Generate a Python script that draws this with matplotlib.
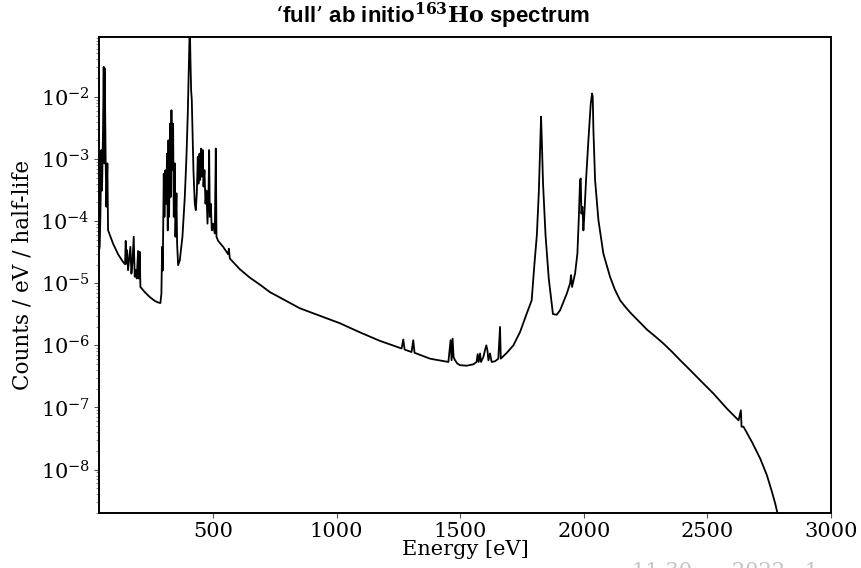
import matplotlib
matplotlib.use("Agg")
import matplotlib.pyplot as plt
import numpy as np

# Energy [eV] and spectrum value (counts / eV / half-life)
energy = [
    40, 41.3, 44, 48, 50.8, 54.8, 57.5, 60.2, 61.6, 65.6, 68.3, 72.4, 75.1, 77.8,
    95.3, 115.6, 135.8, 143.9, 146.6, 149.3, 152, 156, 160.1, 165.5, 169.6, 173.6,
    179, 183, 187.1, 191.2, 196.6, 199.3, 203.3, 206,
    223.6, 243.8, 264, 277.6, 287,
    291, 293.8, 296.4, 300.5, 303.2, 307.2, 310, 314, 316.7, 319.4, 322.1, 326.2,
    328.9, 331.6, 334.3, 338.3, 341, 345, 347.8, 351.8, 354.5, 358.6,
    365.3, 376.1, 385.6, 392.3, 397.7, 401.8, 404.5, 405.8, 408.5, 411.2, 413.9,
    416.6, 420.6, 426, 430.1, 434.2, 438.2, 440.9, 445, 447.7, 451.7, 454.4, 458.4,
    461.2, 465.2, 469.3, 473.3, 477.4, 481.4, 484.1, 486.8, 490.8, 494.9, 500.3,
    507, 511.1, 513.8, 520.6,
    540.8, 561, 563.8, 567.8, 608.3, 648.8, 689.3, 729.8,
    851, 1013, 1094, 1175,
    1262.8, 1269.5, 1275, 1303, 1310, 1315, 1377.5, 1452, 1461, 1465, 1469, 1473,
    1479, 1488, 1499, 1526, 1553, 1566, 1570.5, 1574.5, 1580, 1584, 1593.5, 1600,
    1605.5, 1610, 1614, 1620.5, 1627, 1641, 1654, 1661, 1664, 1688, 1715, 1742,
    1769, 1789,
    1800, 1810, 1818, 1823, 1827, 1830, 1835, 1845, 1858, 1875, 1890,
    1904, 1931, 1944.3, 1948.4, 1952.4, 1964.5, 1974, 1979.4, 1984.8, 1987.5,
    1990.2, 1994.2, 1998.3, 2002.3, 2009, 2018.5, 2028, 2033.4, 2036, 2038.8,
    2045.5, 2059, 2079, 2106, 2125, 2147, 2167, 2187, 2220, 2255, 2290, 2322,
    2355, 2390,
    2430, 2470.7, 2524.7, 2578.7, 2626, 2635.4, 2638, 2646, 2680, 2713.7,
    2740.7, 2761, 2774.4, 2784, 2800,
]
counts = [
    3.6e-5, 3.85e-5, 1.17e-4, 1.39e-3, 3.1e-4, 2.9e-3, 3.05e-2, 8.5e-4, 2.86e-2,
    8.5e-4, 1.7e-4, 8.5e-4, 7.1e-5, 6.7e-5,
    4.35e-5, 2.93e-5, 2.2e-5, 2.02e-5, 4.8e-5, 2.07e-5, 3.4e-5, 1.62e-5, 2.34e-5,
    3.85e-5, 1.43e-5, 2.07e-5, 5.6e-5, 1.27e-5, 1.62e-5, 1.19e-5, 3.3e-5, 1.19e-5,
    3.2e-5, 8.7e-6,
    7.2e-6, 6.0e-6, 5.2e-6, 4.9e-6, 4.8e-6,
    6.8e-6, 3.85e-5, 1.6e-5, 5.8e-4, 1.17e-4, 6.6e-4, 1.9e-4, 1.22e-3, 7.1e-5,
    2.0e-3, 1.17e-4, 3.7e-3, 2.45e-4, 6.1e-3, 6.6e-4, 3.7e-3, 1.17e-4, 8.5e-4,
    5.6e-5, 2.8e-4, 4.35e-5, 1.95e-5,
    2.34e-5, 5.6e-5, 2.45e-4, 1.08e-3, 5.4e-3, 2.7e-2, 8.2e-2, 1.5e-1, 3.9e-2,
    1.28e-2, 8.9e-3, 2.9e-3, 6.6e-4, 1.9e-4, 1.5e-4, 2.8e-4, 1.08e-3, 4.0e-4,
    1.22e-3, 4.6e-4, 1.47e-3, 5.2e-4, 1.39e-3, 3.6e-4, 6.6e-4, 1.9e-4, 3.1e-4,
    9.1e-5, 2.45e-4, 1.39e-3, 1.17e-4, 1.9e-4, 7.1e-5, 9.1e-5, 6.3e-5, 1.47e-3,
    5.6e-5, 4.8e-5,
    3.85e-5, 2.93e-5, 3.6e-5, 2.5e-5, 1.68e-5, 1.23e-5, 9.5e-6, 7.2e-6,
    3.95e-6, 2.27e-6, 1.62e-6, 1.18e-6,
    8.9e-7, 1.24e-6, 8.55e-7, 7.8e-7, 1.21e-6, 7.6e-7, 6.1e-7, 5.4e-7, 1.21e-6,
    5.75e-7, 1.28e-6, 6.5e-7, 5.75e-7, 5.1e-7, 4.8e-7, 4.7e-7, 4.95e-7, 5.4e-7,
    7.2e-7, 5.4e-7, 7.4e-7, 5.4e-7, 6.5e-7, 8.3e-7, 1.0e-6, 8.3e-7, 5.75e-7,
    7.4e-7, 5.4e-7, 5.55e-7, 6.1e-7, 1.98e-6, 6.1e-7, 7.55e-7, 1.0e-6, 1.64e-6,
    3.25e-6, 5.3e-6,
    2.0e-5, 6.0e-5, 3.0e-4, 1.5e-3, 4.8e-3, 2.0e-3, 4.0e-4, 6.0e-5, 1.2e-5,
    3.2e-6, 3.1e-6,
    3.67e-6, 6.8e-6, 9.9e-6, 1.35e-5, 8.7e-6, 1.43e-5, 3.0e-5, 1.04e-4, 4.6e-4,
    4.85e-4, 1.32e-4, 1.7e-4, 7.1e-5, 1.32e-4, 4.6e-4, 2.0e-3, 7.8e-3, 1.13e-2,
    1.0e-2, 2.9e-3, 4.6e-4, 1.04e-4, 3.0e-5, 1.27e-5, 8.0e-6, 5.3e-6, 4.2e-6,
    3.4e-6, 2.5e-6, 1.8e-6, 1.38e-6, 1.07e-6, 8.0e-7, 5.75e-7,
    4.0e-7, 2.74e-7, 1.67e-7, 9.6e-8, 6.2e-8, 9.0e-8, 4.9e-8, 4.9e-8, 2.79e-8,
    1.5e-8, 8.1e-9, 4.4e-9, 2.83e-9, 1.95e-9, 1.0e-9,
]

xlim = (38.5, 3000)
ylim = (2.0e-9, 9.2e-2)
xticks = [500, 1000, 1500, 2000, 2500, 3000]
yticks = [1e-8, 1e-7, 1e-6, 1e-5, 1e-4, 1e-3, 1e-2]

plt.rcParams['font.family'] = ['DejaVu Serif']
plt.rcParams['mathtext.fontset'] = 'dejavuserif'

fig = plt.figure(figsize=(8.61, 5.68), dpi=100)
ax = fig.add_axes([99 / 861, 1 - 513 / 568, 732 / 861, 476 / 568])

ax.plot(energy, counts, color='black', lw=1.3)
ax.set_yscale('log')
ax.set_xlim(*xlim)
ax.set_ylim(*ylim)
ax.set_xticks(xticks)
ax.set_yticks(yticks)
ax.tick_params(axis='both', which='major', labelsize=15, length=3.5, width=0.8,
               color='#555555', pad=3)
ax.tick_params(axis='y', which='minor', length=2, width=0.6, color='#777777')
for s in ax.spines.values():
    s.set_linewidth(1.4)

ax.set_xlabel('Energy [eV]', fontsize=15, labelpad=-1)
ax.set_ylabel('Counts / eV / half-life', fontsize=15.5, labelpad=5)

ax.text(0.455, 1.012, "\u2018full\u2019 ab initio" + r"$^{\mathbf{163}}\mathbf{Ho}$ spectrum",
        transform=ax.transAxes, ha='center', va='bottom', fontsize=16,
        fontweight='bold', family='Liberation Sans')

# faint watermark text, mostly cut off at the bottom edge in the original
fig.text(632 / 861, 1 - 562 / 568, "11 30      2022   1", color='#c4c4c4',
         fontsize=15, ha='left', va='top')

fig.savefig('out.png', dpi=100)
